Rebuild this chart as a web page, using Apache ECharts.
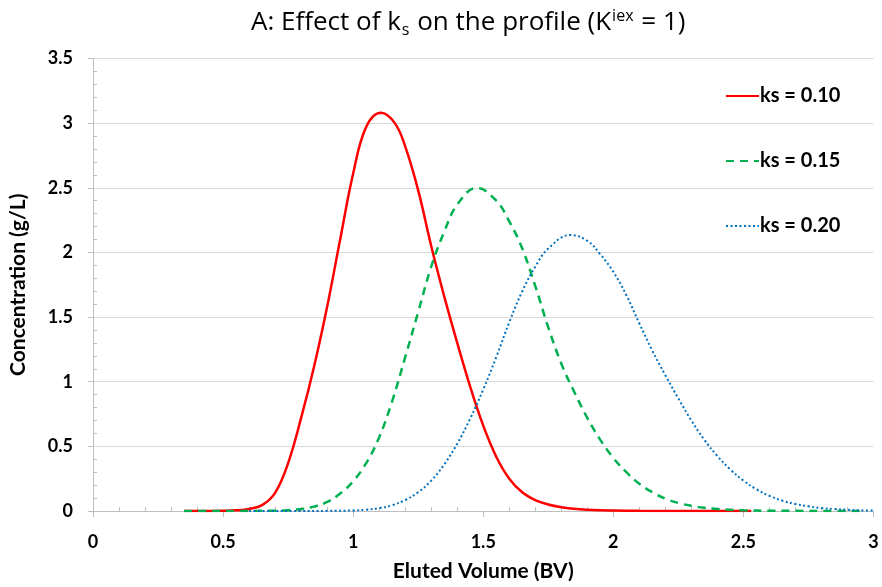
<!DOCTYPE html>
<html>
<head>
<meta charset="utf-8">
<script src="https://cdn.jsdelivr.net/npm/echarts@6/dist/echarts.min.js"></script>
<style>html,body{margin:0;padding:0;background:#fff;}#c{width:882px;height:587px;}</style>
</head>
<body>
<div id="c"></div>
<script>
var seriesNames = ['ks = 0.10', 'ks = 0.15', 'ks = 0.20'];
var xTickLabels = ['0', '0.5', '1', '1.5', '2', '2.5', '3'];
var yTickLabels = ['0', '0.5', '1', '1.5', '2', '2.5', '3', '3.5'];

var redX = [0.35,0.4,0.45,0.5,0.55,0.6,0.65,0.7,0.75,0.8,0.85,0.9,0.95,1.0,1.05,1.107,1.16,1.2,1.25,1.3,1.35,1.4,1.45,1.5,1.55,1.6,1.65,1.7,1.75,1.8,1.85,1.9,1.95,2.0,2.1,2.2,2.3,2.4,2.53];
var redY = [0,0,0,0.001,0.005,0.016,0.045,0.14,0.37,0.72,1.12,1.58,2.10,2.61,2.97,3.08,3.00,2.82,2.48,2.05,1.66,1.30,0.96,0.66,0.42,0.25,0.145,0.085,0.05,0.029,0.017,0.01,0.006,0.004,0.001,0,0,0,0];

var greenX = [0.35,0.45,0.55,0.65,0.7,0.75,0.8,0.85,0.9,0.95,1.0,1.05,1.1,1.15,1.2,1.25,1.3,1.35,1.4,1.475,1.55,1.6,1.65,1.7,1.75,1.8,1.85,1.9,1.95,2.0,2.05,2.1,2.15,2.2,2.25,2.3,2.35,2.4,2.45,2.5,2.6,2.7,2.8,2.96];
var greenY = [0,0,0,0.001,0.002,0.006,0.015,0.034,0.07,0.135,0.23,0.37,0.57,0.85,1.19,1.54,1.89,2.16,2.37,2.50,2.40,2.24,2.03,1.74,1.42,1.14,0.92,0.72,0.55,0.41,0.30,0.21,0.145,0.095,0.062,0.04,0.025,0.015,0.009,0.005,0.002,0.001,0,0];

var blueX = [0.6,0.7,0.8,0.9,1.0,1.05,1.1,1.15,1.2,1.25,1.3,1.35,1.4,1.45,1.5,1.55,1.6,1.65,1.7,1.75,1.835,1.9,1.95,2.0,2.05,2.1,2.15,2.2,2.25,2.3,2.35,2.4,2.45,2.5,2.55,2.6,2.65,2.7,2.75,2.8,2.85,2.9,2.95,3.0];
var blueY = [0,0,0,0.001,0.004,0.01,0.022,0.045,0.085,0.145,0.235,0.36,0.52,0.715,0.94,1.19,1.46,1.70,1.89,2.03,2.135,2.09,1.985,1.85,1.67,1.45,1.24,1.05,0.87,0.70,0.55,0.425,0.32,0.235,0.168,0.117,0.08,0.054,0.036,0.023,0.015,0.009,0.005,0.003];

function pairs(xs, ys) { return xs.map(function (x, i) { return [x, ys[i]]; }); }

var FONT = 'Lato';
var chart = echarts.init(document.getElementById('c'), null, { renderer: 'canvas', width: 882, height: 587 });
var axisGray = '#BFBFBF';
var gridGray = '#D9D9D9';

chart.setOption({
  animation: false,
  backgroundColor: '#fff',
  title: {
    text: '{n|A: Effect of k}{sub|s}{n| on the profile (K}{sup|iex}{n| = 1)}',
    left: 246, top: 1,
    textStyle: {
      fontWeight: 'normal',
      rich: {
        n: { fontFamily: 'Open Sans', fontSize: 26, fontWeight: 'normal', color: '#000', lineHeight: 34 },
        sub: { fontFamily: 'Open Sans', fontSize: 16, fontWeight: 'normal', color: '#000', padding: [15, 1, 0, 1] },
        sup: { fontFamily: 'Open Sans', fontSize: 16, fontWeight: 'normal', color: '#000', padding: [0, 1, 13, 1] }
      }
    }
  },
  legend: {
    orient: 'vertical',
    left: 720, top: 81,
    itemWidth: 33, itemHeight: 14, itemGap: 45,
    itemStyle: { opacity: 0, borderWidth: 0 },
    textStyle: { fontFamily: FONT, fontSize: 20, fontWeight: 'bold', color: '#000', padding: [0, 0, 0, -4] },
    data: seriesNames
  },
  grid: { left: 93, width: 780.5, top: 58.5, height: 455, containLabel: false },
  xAxis: {
    type: 'value', min: 0, max: 3, interval: 0.5,
    name: 'Eluted Volume (BV)', nameLocation: 'middle', nameGap: 50,
    nameTextStyle: { fontFamily: FONT, fontSize: 21, fontWeight: 'bold', color: '#000' },
    axisLine: { show: true, onZero: false, lineStyle: { color: axisGray, width: 1 } },
    axisTick: { show: true, length: 6, lineStyle: { color: axisGray } },
    minorTick: { show: true, splitNumber: 5, length: -4, lineStyle: { color: axisGray } },
    splitLine: { show: false },
    axisLabel: {
      margin: 22, fontFamily: FONT, fontSize: 18, fontWeight: 'bold', color: '#000',
      formatter: function (v) { return xTickLabels[Math.round(v / 0.5)]; }
    }
  },
  yAxis: {
    type: 'value', min: 0, max: 3.5, interval: 0.5,
    name: 'Concentration (g/L)', nameLocation: 'middle', nameGap: 64,
    nameTextStyle: { fontFamily: FONT, fontSize: 21, fontWeight: 'bold', color: '#000' },
    axisLine: { show: true, lineStyle: { color: axisGray, width: 1 } },
    axisTick: { show: true, length: 5, lineStyle: { color: axisGray } },
    minorTick: { show: true, splitNumber: 5, length: -4, lineStyle: { color: axisGray } },
    splitLine: { show: true, lineStyle: { color: gridGray, width: 1 } },
    axisLabel: {
      margin: 20, fontFamily: FONT, fontSize: 18, fontWeight: 'bold', color: '#000',
      formatter: function (v) { return yTickLabels[Math.round(v / 0.5)]; }
    }
  },
  series: [
    { name: seriesNames[0], type: 'line', data: pairs(redX, redY), smooth: 0.4, showSymbol: false, symbol: 'none',
      lineStyle: { color: '#FF0000', width: 2.5 }, itemStyle: { color: '#FF0000' } },
    { name: seriesNames[1], type: 'line', data: pairs(greenX, greenY), smooth: 0.4, showSymbol: false, symbol: 'none',
      lineStyle: { color: '#00B050', width: 2.5, type: [8, 6] }, itemStyle: { color: '#00B050' } },
    { name: seriesNames[2], type: 'line', data: pairs(blueX, blueY), smooth: 0.4, showSymbol: false, symbol: 'none',
      lineStyle: { color: '#0070C0', width: 2, type: [2, 2.5] }, itemStyle: { color: '#0070C0' } }
  ]
});
</script>
</body>
</html>
